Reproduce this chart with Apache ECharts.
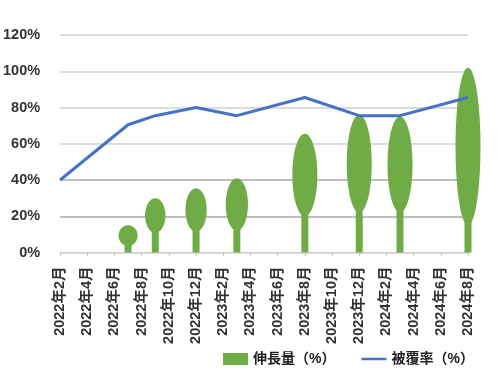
<!DOCTYPE html>
<html>
<head>
<meta charset="utf-8">
<script src="https://cdn.jsdelivr.net/npm/echarts@6/dist/echarts.min.js"></script>
<style>
  html, body { margin: 0; padding: 0; background: #fff; }
  #chart { width: 500px; height: 377px; }
</style>
</head>
<body>
<div id="chart"></div>
<script>
// x axis tick labels (one every 2 months)
const months = [
  "2022年2月", "2022年4月", "2022年6月", "2022年8月", "2022年10月", "2022年12月",
  "2023年2月", "2023年4月", "2023年6月", "2023年8月", "2023年10月", "2023年12月",
  "2024年2月", "2024年4月", "2024年6月", "2024年8月"
];
// measurement positions on the month axis (index units)
const treeX = [2.5, 3.5, 5, 6.5, 9, 11, 12.5, 15];
// 伸長量 (%) - top of each crown
const growth = [15, 30, 35.5, 41, 65.5, 76, 75, 102];
// bottom of each crown (%)
const crownBase = [3.6, 10.8, 11.5, 12, 20, 22, 22, 15];
// 被覆率 (%)
const coverX = [0, 2.5, 3.5, 5, 6.5, 9, 11, 12.5, 15];
const coverage = [40, 70.5, 75.5, 80, 75.5, 85.5, 75.5, 75.5, 85.5];

const green = "#6fac46";
const blue = "#4472c4";
const font = "Liberation Sans, Noto Sans CJK JP, sans-serif";

const chart = echarts.init(document.getElementById("chart"));

// trunk + elliptic crown
function renderTree(params, api) {
  const x = api.value(0);
  const pTop = api.coord([x, api.value(1)]);
  const pBase = api.coord([x, api.value(2)]);
  const p0 = api.coord([x, 0]);
  const h = pBase[1] - pTop[1];
  const w = Math.min(25, 17 + h * 0.1);
  const color = api.visual("color");
  return {
    type: "group",
    children: [
      {
        type: "rect",
        shape: { x: p0[0] - 3.5, y: pBase[1] - 4, width: 7, height: p0[1] - pBase[1] + 4 },
        style: { fill: color }
      },
      {
        type: "ellipse",
        shape: { cx: p0[0], cy: (pTop[1] + pBase[1]) / 2, rx: w / 2, ry: h / 2 },
        style: { fill: color }
      }
    ]
  };
}

chart.setOption({
  animation: false,
  grid: { left: 58, right: 32, top: 35, bottom: 124.5 },
  legend: {
    left: 218,
    top: 347,
    itemWidth: 25,
    itemHeight: 12,
    itemGap: 26,
    textStyle: { fontSize: 14, fontWeight: "bold", color: "#222", fontFamily: font },
    data: [
      { name: "伸長量（%）", icon: "rect" },
      { name: "被覆率（%）", icon: "path://M0,0L30,0L30,3L0,3Z" }
    ]
  },
  xAxis: {
    type: "value",
    min: 0,
    max: months.length - 1,
    interval: 1,
    splitLine: { show: false },
    axisLine: { show: true, lineStyle: { color: "#d0d0d0" } },
    axisTick: { show: true, length: 4, lineStyle: { color: "#c8c8c8" } },
    axisLabel: {
      rotate: 90,
      margin: 14,
      fontSize: 14.5,
      fontWeight: "bold",
      color: "#333",
      fontFamily: font,
      formatter: (v) => months[v] || ""
    }
  },
  yAxis: {
    type: "value",
    min: 0,
    max: 120,
    interval: 20,
    axisLine: { show: false },
    axisTick: { show: false },
    axisLabel: {
      margin: 20,
      fontSize: 14.5,
      fontWeight: "bold",
      color: "#333",
      fontFamily: font,
      formatter: "{value}%"
    },
    splitLine: {
      lineStyle: {
        color: ["#d0d0d0", "#a8a8a8", "#a8a8a8", "#d0d0d0", "#d0d0d0", "#d0d0d0", "#d0d0d0"],
        width: 1.5
      }
    }
  },
  series: [
    {
      name: "伸長量（%）",
      type: "custom",
      renderItem: renderTree,
      itemStyle: { color: green },
      encode: { x: 0, y: 1 },
      data: treeX.map((x, i) => [x, growth[i], crownBase[i]])
    },
    {
      name: "被覆率（%）",
      type: "line",
      symbol: "none",
      lineStyle: { color: blue, width: 3 },
      itemStyle: { color: blue },
      data: coverX.map((x, i) => [x, coverage[i]]),
      z: 3
    }
  ]
});
</script>
</body>
</html>
